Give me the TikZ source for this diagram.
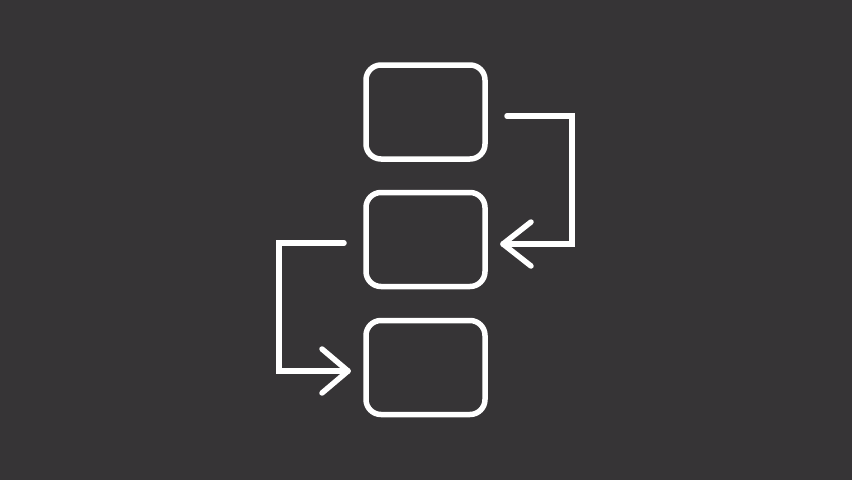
\documentclass[tikz,border=0pt]{standalone}
\definecolor{bg}{RGB}{54,52,54}
\begin{document}
\begin{tikzpicture}[x=1pt,y=-1pt,
  box/.style={draw=white,line width=5.5pt,rounded corners=15pt,minimum width=119pt,minimum height=94pt,inner sep=0pt,outer sep=0pt},
  conn/.style={draw=white,line width=5.5pt,line cap=round,line join=miter},
  arm/.style={draw=white,line width=5.5pt,line cap=round,line join=round}]
\fill[bg] (0,0) rectangle (852,480);
\useasboundingbox (0,0) rectangle (852,480);
\node[box] (b1) at (425.5,112) {};
\node[box] (b2) at (425.5,239.5) {};
\node[box] (b3) at (425.5,367.5) {};
% arrow 1
\coordinate (s1) at ([xshift=22pt]b1.east |- 0,116);
\coordinate (t1) at ([xshift=18pt]b2.east |- 0,244);
\draw[conn] (s1) -- (572,116) -- (572,244) -- (t1);
\draw[arm] ([shift={(28,-22)}]t1) -- (t1) -- ([shift={(28,22)}]t1);
% arrow 2
\coordinate (s2) at ([xshift=-22pt]b2.west |- 0,243);
\coordinate (t2) at ([xshift=-18pt]b3.west |- 0,371);
\draw[conn] (s2) -- (279,243) -- (279,371) -- (t2);
\draw[arm] ([shift={(-26,-22)}]t2) -- (t2) -- ([shift={(-26,22)}]t2);
\end{tikzpicture}
\end{document}
